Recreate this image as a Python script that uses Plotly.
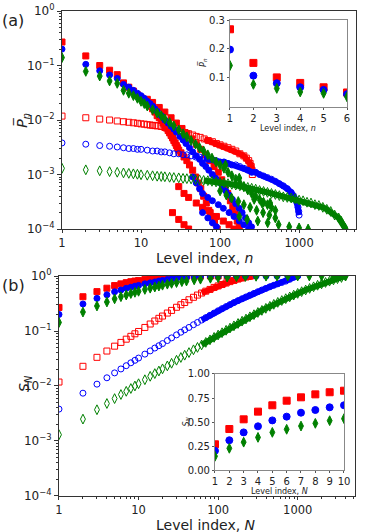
import plotly.graph_objects as go

# ---------------- panel (a): mean level occupation P_n ----------------
# open markers (smooth curves)
n_red_open = [1,2,3,4,5,6,7,8,9,10,11,12,13,14,15,16,18,20,22,25,28,32,36,40,45,50,56,63,71,80,90,100,112,126,141,158,178,200,215,230,240,248,253,256]
p_red_open = [0.0118,0.0110,0.0104,0.0100,0.0096,0.0093,0.0091,0.0089,0.0087,0.0085,0.0084,0.0082,0.0081,0.0080,0.0079,0.0078,0.0076,0.0073,0.0071,0.0068,0.0065,0.0062,0.0059,0.0056,0.0053,0.0050,0.0048,0.0045,0.0042,0.0040,0.0037,0.0035,0.0033,0.0031,0.0029,0.0027,0.0024,0.0022,0.0020,0.0018,0.0016,0.0014,0.0012,0.0010]

n_blue_open = [1,2,3,4,5,6,7,8,9,10,12,14,16,18,20,23,26,30,34,38,43,49,55,62,70,79,89,100,112,126,141,158,178,200,224,251,282,316,355,398,447,501,562,631,708,794,850,900,940,970,990,1000]
p_blue_open = [0.0038,0.0036,0.0034,0.0033,0.0032,0.0031,0.0030,0.0030,0.0029,0.0029,0.0028,0.0027,0.0027,0.0026,0.0026,0.0025,0.0024,0.0024,0.0023,0.0023,0.0022,0.0021,0.0021,0.0020,0.0019,0.0019,0.0018,0.0017,0.0017,0.0016,0.0015,0.0015,0.0014,0.0013,0.0012,0.0011,0.0011,0.0010,0.00094,0.00088,0.00082,0.00075,0.00068,0.00062,0.00055,0.00047,0.00041,0.00035,0.00030,0.00025,0.00021,0.00018]

n_green_open = [1,2,3,4,5,6,7,8,9,10,12,14,16,18,20,23,26,30,34,38,43,49,55,62,70,79,89,100,112,126,141,158,178,200,224,251,282,316,355,398,447,501,562,631,708,794,891,1000,1122,1259,1413,1585,1778,1995,2239,2512,2818,3162,3400,3600,3800,3950]
p_green_open = [0.00130,0.00122,0.00117,0.00113,0.00110,0.00107,0.00105,0.00103,0.00101,0.00099,0.00097,0.00095,0.00093,0.00092,0.00091,0.00089,0.00088,0.00087,0.00085,0.00084,0.00083,0.00081,0.00080,0.00078,0.00077,0.00075,0.00073,0.00071,0.00070,0.00068,0.00066,0.00064,0.00062,0.00060,0.00058,0.00056,0.00054,0.00051,0.00049,0.00047,0.00045,0.00043,0.00041,0.00039,0.00038,0.00037,0.00036,0.00034,0.00033,0.00031,0.00030,0.00028,0.00027,0.00025,0.00023,0.00021,0.00018,0.00016,0.00014,0.00012,0.000105,0.00009]

# filled markers (scattered clouds)
n_red_fill = [1,2,3,4,5,6,7,8,9,10,11,12,13,14,15,16,17,18,19,20,21,22,23,24,25,26,27,28,29,30,32,35,38,41,45,49,53,57,62,67,72,78,85,92,
              12,14,17,20,24,28,33,38,44,50,57,65,74,84,95,105,115,125,135,145,155,165,175,
              30,35,40,50,60,75,90,110,130,150,25,30,35,40]
p_red_fill = [0.27,0.15,0.10,0.082,0.068,0.048,0.040,0.034,0.029,0.026,0.023,0.020,0.018,0.016,0.014,0.012,0.011,0.0098,0.0088,0.0079,0.0071,0.0064,0.0058,0.0052,0.0047,0.0042,0.0038,0.0034,0.0031,0.0028,0.0025,0.0021,0.0018,0.0015,0.0012,0.0009,0.0007,0.00055,0.0004,0.0003,0.00022,0.00017,0.00013,0.0001,
              0.024,0.021,0.017,0.014,0.011,0.0088,0.0070,0.0056,0.0045,0.0036,0.0029,0.0023,0.0018,0.0014,0.0011,0.0008,0.0006,0.00045,0.00033,0.00025,0.00019,0.00014,0.00011,
              0.0006,0.00045,0.00038,0.0003,0.00025,0.0002,0.00017,0.00014,0.00012,0.0001,0.0002,0.00015,0.00012,0.0001]

n_blue_fill = [1,2,3,4,5,6,7,8,9,10,11,12,13,14,15,16,18,20,22,24,26,28,31,34,37,41,45,50,55,60,66,72,80,88,97,107,118,130,143,158,174,190,210,230,250,
               45,50,55,60,70,80,95,110,130,150,175,200,230,60,70,80,90]
p_blue_fill = [0.20,0.105,0.080,0.067,0.058,0.045,0.040,0.035,0.031,0.028,0.025,0.022,0.020,0.018,0.016,0.0145,0.012,0.010,0.0088,0.0077,0.0068,0.0060,0.0050,0.0043,0.0037,0.0031,0.0026,0.0022,0.0019,0.0016,0.0014,0.0012,0.0010,0.00085,0.00072,0.0006,0.0005,0.00042,0.00035,0.00029,0.00024,0.0002,0.00016,0.00013,0.00011,
               0.0009,0.0007,0.00055,0.00045,0.00038,0.00033,0.00028,0.00024,0.0002,0.00017,0.00014,0.00012,0.0001,0.0002,0.00016,0.00013,0.00011]

n_green_fill = [1,2,3,4,5,6,7,8,9,10,11,12,14,16,18,20,23,26,30,34,38,43,49,55,62,70,79,89,100,112,126,141,158,178,200,224,251,282,316,355,398,447,501,
                117,175,270,340,430,100,120,140,170,200,240,290,350,420,500,175,220,300,400,550,750,1000,1300]
p_green_fill = [0.14,0.078,0.064,0.052,0.047,0.035,0.031,0.028,0.025,0.022,0.020,0.018,0.0155,0.0135,0.012,0.0105,0.009,0.0078,0.0066,0.0056,0.0049,0.0042,0.0036,0.0031,0.0027,0.0023,0.0020,0.0017,0.0015,0.0013,0.0011,0.00095,0.00082,0.0007,0.0006,0.00052,0.00045,0.0004,0.00035,0.00031,0.00028,0.00025,0.00022,
                0.0015,0.00086,0.00035,0.0003,0.0003,0.0005,0.00042,0.00037,0.00032,0.00028,0.00025,0.00022,0.0002,0.00018,0.00016,0.00017,0.00015,0.00014,0.00013,0.00012,0.00011,0.000105,0.0001]

# inset (a): first six levels
n_inset = [1,2,3,4,5,6]
p_red_inset = [0.268,0.152,0.102,0.083,0.068,0.05]
p_blue_inset = [0.198,0.108,0.082,0.068,0.059,0.044]
p_green_inset = [0.143,0.078,0.064,0.052,0.047,0.035]

# ---------------- panel (b): cumulative S_N ----------------
N_red_open = [1,2,3,4,5,6,7,8,9,10,12,14,16,18,20,23,26,30,34,38,43,49,55,62,70,79,89,100,112,126,141,158,178,200,224,240,256]
s_red_open = [0.0118,0.0228,0.0332,0.0432,0.053,0.062,0.071,0.080,0.089,0.098,0.116,0.134,0.152,0.17,0.187,0.212,0.237,0.27,0.30,0.33,0.37,0.41,0.45,0.49,0.53,0.57,0.62,0.66,0.70,0.745,0.79,0.83,0.88,0.92,0.96,0.98,1.0]

N_blue_open = [1,2,3,4,5,6,7,8,9,10,12,14,16,18,20,23,26,30,34,38,43,49,55,62,70,79,89,100,112,126,141,158,178,200,224,251,282,316,355,398,447,501,562,631,708,794,891,1000]
s_blue_open = [0.0038,0.0074,0.0108,0.0141,0.0173,0.0204,0.0234,0.0264,0.0293,0.0322,0.038,0.0435,0.049,0.054,0.059,0.067,0.075,0.085,0.095,0.105,0.116,0.13,0.143,0.158,0.175,0.193,0.212,0.233,0.255,0.278,0.302,0.328,0.356,0.386,0.416,0.448,0.482,0.518,0.556,0.595,0.636,0.678,0.72,0.763,0.806,0.87,0.95,1.0]

N_green_open = [1,2,3,4,5,6,7,8,9,10,12,14,16,18,20,23,26,30,34,38,43,49,55,62,70,79,89,100,112,126,141,158,178,200,224,251,282,316,355,398,447,501,562,631,708,794,891,1000,1122,1259,1413,1585,1778,1995,2239,2512,2818,3162,3548,3981]
s_green_open = [0.0013,0.0025,0.0037,0.0048,0.0059,0.007,0.008,0.009,0.010,0.011,0.013,0.015,0.0168,0.0187,0.0205,0.0232,0.0259,0.0294,0.033,0.0363,0.0405,0.0455,0.0503,0.0558,0.062,0.069,0.0765,0.0845,0.093,0.103,0.113,0.124,0.137,0.151,0.165,0.181,0.198,0.217,0.237,0.258,0.281,0.305,0.331,0.358,0.387,0.417,0.449,0.483,0.519,0.556,0.595,0.636,0.678,0.72,0.763,0.806,0.85,0.895,0.94,1.0]

N_red_fill = [1,2,3,4,5,6,7,8,9,10,12,14,16,18,20,23,26,30,35,40,50,60,80,100,130,170,250]
s_red_fill = [0.268,0.42,0.52,0.60,0.67,0.72,0.757,0.788,0.81,0.826,0.86,0.89,0.91,0.93,0.945,0.96,0.97,0.98,0.987,0.992,0.996,0.998,0.999,1.0,1.0,1.0,1.0]

N_blue_fill = [1,2,3,4,5,6,7,8,9,10,12,14,16,18,20,23,26,30,35,40,50,60,80,100,130,170,220,300,400,550,750,1000]
s_blue_fill = [0.2,0.31,0.392,0.455,0.517,0.556,0.597,0.625,0.653,0.674,0.72,0.75,0.78,0.81,0.83,0.86,0.88,0.91,0.93,0.95,0.97,0.98,0.99,0.993,0.996,0.998,0.999,1.0,1.0,1.0,1.0,1.0]

N_green_fill = [1,2,3,4,5,6,7,8,9,10,12,14,16,18,20,23,26,30,35,40,50,60,80,100,130,170,220,300,400,550,750,1000,1400,2000,2800,4000]
s_green_fill = [0.143,0.221,0.285,0.337,0.384,0.42,0.45,0.48,0.505,0.527,0.57,0.60,0.63,0.655,0.68,0.71,0.735,0.76,0.79,0.81,0.85,0.875,0.91,0.935,0.955,0.97,0.98,0.988,0.993,0.995,0.997,0.998,0.999,1.0,1.0,1.0]

# inset (b): first ten levels
N_inset = [1,2,3,4,5,6,7,8,9,10]
s_red_inset = [0.268,0.427,0.528,0.608,0.674,0.722,0.757,0.788,0.81,0.826]
s_blue_inset = [0.2,0.31,0.392,0.455,0.517,0.556,0.597,0.625,0.653,0.674]
s_green_inset = [0.143,0.226,0.29,0.34,0.392,0.424,0.458,0.486,0.514,0.535]

RED, BLUE, GREEN = '#ff0000', '#0000ff', '#008000'
FONT = 'DejaVu Sans'

fig = go.Figure()


def band(x, y, color, ax, start, width=6):
    # dense part of a series drawn as a thick line so it reads like packed markers
    xs = [a for a in x if a >= start]
    ys = [b for a, b in zip(x, y) if a >= start]
    fig.add_trace(go.Scatter(x=xs, y=ys, mode='lines', line=dict(color=color, width=width),
                             xaxis=ax[0], yaxis=ax[1], showlegend=False, hoverinfo='skip'))


def pts(x, y, color, symbol, size, ax):
    fig.add_trace(go.Scatter(x=x, y=y, mode='markers',
                             marker=dict(color=color, symbol=symbol, size=size,
                                         line=dict(width=1, color=color)),
                             xaxis=ax[0], yaxis=ax[1], showlegend=False))


A = ('x', 'y')
AI = ('x2', 'y2')
B = ('x3', 'y3')
BI = ('x4', 'y4')

# panel (a)
pts(n_red_fill, p_red_fill, RED, 'square', 6, A)
band(n_red_open, p_red_open, RED, A, 60)
pts(n_red_open, p_red_open, RED, 'square-open', 6, A)
pts(n_blue_fill, p_blue_fill, BLUE, 'circle', 6, A)
band(n_blue_open, p_blue_open, BLUE, A, 60)
pts(n_blue_open, p_blue_open, BLUE, 'circle-open', 6, A)
pts(n_green_fill, p_green_fill, GREEN, 'diamond-tall', 7, A)
band(n_green_open, p_green_open, GREEN, A, 60)
pts(n_green_open, p_green_open, GREEN, 'diamond-tall-open', 7, A)

pts(n_inset, p_red_inset, RED, 'square', 7, AI)
pts(n_inset, p_blue_inset, BLUE, 'circle', 7, AI)
pts(n_inset, p_green_inset, GREEN, 'diamond-tall', 7, AI)

# panel (b)
pts(N_red_fill, s_red_fill, RED, 'square', 6, B)
band(N_red_open, s_red_open, RED, B, 60)
pts(N_red_open, s_red_open, RED, 'square-open', 6, B)
pts(N_blue_fill, s_blue_fill, BLUE, 'circle', 6, B)
band(N_blue_open, s_blue_open, BLUE, B, 60)
pts(N_blue_open, s_blue_open, BLUE, 'circle-open', 6, B)
pts(N_green_fill, s_green_fill, GREEN, 'diamond-tall', 7, B)
band(N_green_open, s_green_open, GREEN, B, 60)
pts(N_green_open, s_green_open, GREEN, 'diamond-tall-open', 7, B)

pts(N_inset, s_red_inset, RED, 'square', 7, BI)
pts(N_inset, s_blue_inset, BLUE, 'circle', 7, BI)
pts(N_inset, s_green_inset, GREEN, 'diamond-tall', 7, BI)

major_x = [1, 10, 100, 1000]
minor_x = [m * d for d in [1, 10, 100, 1000] for m in range(2, 10)]
major_y = [1e-4, 1e-3, 1e-2, 1e-1, 1]
minor_y = [m * d for d in [1e-4, 1e-3, 1e-2, 1e-1] for m in range(2, 10)]
ytext = ['10<sup>\u22124</sup>', '10<sup>\u22123</sup>', '10<sup>\u22122</sup>',
         '10<sup>\u22121</sup>', '10<sup>0</sup>']

logx = dict(type='log', range=[0, 3.72], tickvals=major_x, ticktext=['1', '10', '100', '1000'],
            ticks='outside', ticklen=3, tickcolor='#333', showline=True, mirror=True,
            linecolor='#333', linewidth=1, showgrid=False, zeroline=False, automargin=False,
            tickfont=dict(size=11.5, color='#222'),
            minor=dict(tickvals=minor_x, ticks='outside', ticklen=2, tickcolor='#333', showgrid=False))
logy = dict(type='log', range=[-4, 0], tickvals=major_y, ticktext=ytext,
            ticks='outside', ticklen=4, tickcolor='#333', showline=True, mirror=True,
            linecolor='#333', linewidth=1, showgrid=False, zeroline=False, automargin=False,
            tickfont=dict(size=12, color='#222'),
            minor=dict(tickvals=minor_y, ticks='outside', ticklen=2, tickcolor='#333', showgrid=False))
lin = dict(ticks='outside', ticklen=2, tickcolor='#555', showline=True, mirror=True,
           linecolor='#888', linewidth=1, showgrid=False, zeroline=False, automargin=False,
           tickfont=dict(size=10, color='#222'))

fig.update_layout(
    width=366, height=532,
    margin=dict(l=0, r=0, t=0, b=0, autoexpand=False),
    paper_bgcolor='white', plot_bgcolor='white',
    font=dict(family=FONT, color='#222'),
    xaxis=dict(logx, domain=[0.1694, 0.9727], anchor='y'),
    yaxis=dict(logy, domain=[0.5695, 0.9793], anchor='x'),
    xaxis2=dict(lin, domain=[0.6284, 0.9481], anchor='y2', range=[1, 6], tickvals=n_inset),
    yaxis2=dict(lin, domain=[0.7989, 0.9624], anchor='x2', range=[0, 0.3], tickvals=[0.1, 0.2, 0.3]),
    xaxis3=dict(logx, domain=[0.1612, 0.9699], anchor='y3'),
    yaxis3=dict(logy, domain=[0.0677, 0.4812], anchor='x3'),
    xaxis4=dict(lin, domain=[0.5874, 0.9399], anchor='y4', range=[1, 10], tickvals=N_inset),
    yaxis4=dict(lin, domain=[0.1165, 0.297], anchor='x4', range=[0, 1],
                tickvals=[0, 0.25, 0.5, 0.75, 1], ticktext=['0.00', '0.25', '0.50', '0.75', '1.00']),
)

ann = [
    dict(text='(a)', x=0.0, y=0.962, size=16, angle=0, xanchor='left'),
    dict(text='(b)', x=0.0, y=0.464, size=16, angle=0, xanchor='left'),
    dict(text='<i>P\u0305</i><sub><i>n</i></sub>', x=0.06, y=0.775, size=14, angle=-90, xanchor='center'),
    dict(text='Level index, <i>n</i>', x=0.56, y=0.515, size=14, angle=0, xanchor='center'),
    dict(text='<i>S</i><sub><i>N</i></sub>', x=0.068, y=0.28, size=14, angle=-90, xanchor='center'),
    dict(text='Level index, <i>N</i>', x=0.563, y=0.0135, size=14, angle=0, xanchor='center'),
    dict(text='<i>P\u0305</i><sub><i>n</i></sub>', x=0.555, y=0.882, size=8, angle=-90, xanchor='center'),
    dict(text='Level index, <i>n</i>', x=0.787, y=0.7585, size=8, angle=0, xanchor='center'),
    dict(text='<i>S</i><sub><i>N</i></sub>', x=0.51, y=0.207, size=8, angle=-90, xanchor='center'),
    dict(text='Level index, <i>N</i>', x=0.765, y=0.076, size=8, angle=0, xanchor='center'),
]
for a in ann:
    fig.add_annotation(text=a['text'], x=a['x'], y=a['y'], xref='paper', yref='paper',
                       xanchor=a['xanchor'], yanchor='middle', showarrow=False,
                       textangle=a['angle'], font=dict(size=a['size'], family=FONT, color='#222'))

# the page is photographed as-is, so drop the browser's default body margin
fig.write_html("out.html", config={'displayModeBar': False},
               post_script="document.body.style.margin='0';")
